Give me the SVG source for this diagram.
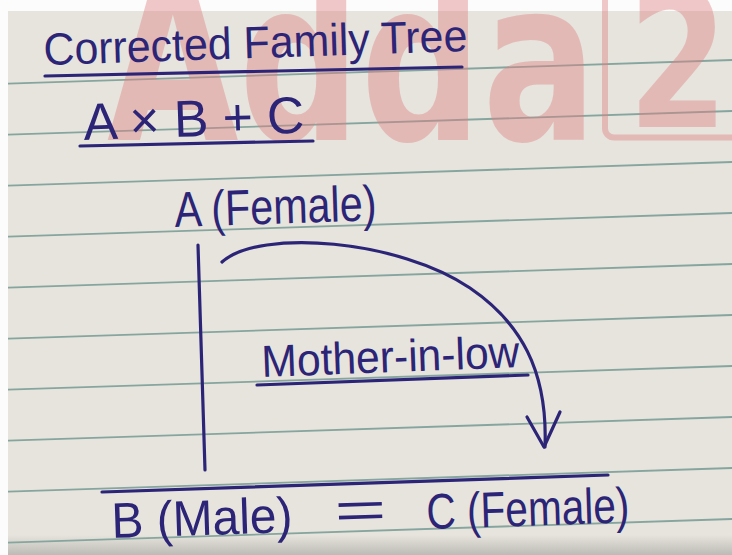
<svg xmlns="http://www.w3.org/2000/svg" width="732" height="555" viewBox="0 0 732 555">
<defs>
<style>
.ink{font-family:"Liberation Sans","DejaVu Sans",sans-serif;fill:#2c2477;}
.pen{stroke:#2c2477;stroke-width:3.2;fill:none;stroke-linecap:round;stroke-linejoin:round}
.rule{stroke:#86a59e;stroke-width:1.8}
.wm{font-family:"DejaVu Sans",sans-serif;font-weight:bold;fill:#e07f80;fill-opacity:0.42}
</style>
<linearGradient id="shade" x1="0" y1="0" x2="0" y2="1">
<stop offset="0" stop-color="#b8b6b0" stop-opacity="0"/>
<stop offset="1" stop-color="#b8b6b0" stop-opacity="0.9"/>
</linearGradient>
</defs>
<g id="paper">
<rect width="732" height="555" fill="#fcfcfc"/>
<rect x="8" y="11" width="724" height="544" fill="#e6e4dd"/>
<rect x="8" y="535" width="724" height="20" fill="url(#shade)"/>
<g class="rule">
<line x1="8" y1="83.7" x2="732" y2="60"/>
<line x1="8" y1="134.7" x2="732" y2="111"/>
<line x1="8" y1="185.7" x2="732" y2="162"/>
<line x1="8" y1="236.7" x2="732" y2="213"/>
<line x1="8" y1="287.7" x2="732" y2="264"/>
<line x1="8" y1="338.7" x2="732" y2="315"/>
<line x1="8" y1="389.7" x2="732" y2="366"/>
<line x1="8" y1="440.7" x2="732" y2="417"/>
<line x1="8" y1="491.7" x2="732" y2="468"/>
<line x1="8" y1="542.7" x2="732" y2="519"/>
</g>
</g>
<g id="watermark">
<text class="wm" x="107" y="140" font-size="225" textLength="490" lengthAdjust="spacingAndGlyphs">Adda</text>
<text class="wm" x="628" y="127" font-size="190" textLength="100" lengthAdjust="spacingAndGlyphs">2</text>
<rect x="605" y="-30" width="150" height="167.5" rx="9" fill="none" stroke="#e07f80" stroke-opacity="0.42" stroke-width="6"/>
</g>
<g id="title">
<text class="ink" x="44" y="65" font-size="45" textLength="424" lengthAdjust="spacingAndGlyphs" transform="rotate(-1.9 44 65)">Corrected Family Tree</text>
<path class="pen" d="M45,76 L462,67"/>
</g>
<g id="formula">
<text class="ink" x="84" y="140" font-size="52" textLength="221" lengthAdjust="spacingAndGlyphs" transform="rotate(-1.9 84 140)">A × B + C</text>
<path class="pen" d="M80,146 L313,141"/>
</g>
<g id="nodeA">
<text class="ink" x="175" y="227" font-size="50" textLength="202" lengthAdjust="spacingAndGlyphs" transform="rotate(-1.9 175 227)">A (Female)</text>
</g>
<g id="connectors">
<path class="pen" d="M198,245 L205,470"/>
<path class="pen" d="M222,262 C260,228 400,240 470,288 C520,322 548,370 545,447"/>
<path class="pen" d="M527,417 L544,447 L560,412"/>
<path class="pen" d="M102,492 L608,475"/>
</g>
<g id="relationLabel">
<text class="ink" x="262" y="377" font-size="45" textLength="258" lengthAdjust="spacingAndGlyphs" transform="rotate(-2.2 262 377)">Mother-in-low</text>
<path class="pen" d="M257,385 L528,375"/>
</g>
<g id="nodeB">
<text class="ink" x="112" y="538" font-size="50" textLength="181" lengthAdjust="spacingAndGlyphs" transform="rotate(-1.9 112 538)">B (Male)</text>
</g>
<g id="equals">
<text class="ink" x="335" y="528" font-size="50" textLength="52" lengthAdjust="spacingAndGlyphs" transform="rotate(-1.9 335 528)">=</text>
</g>
<g id="nodeC">
<text class="ink" x="427" y="529" font-size="50" textLength="203" lengthAdjust="spacingAndGlyphs" transform="rotate(-1.9 427 529)">C (Female)</text>
</g>
</svg>
